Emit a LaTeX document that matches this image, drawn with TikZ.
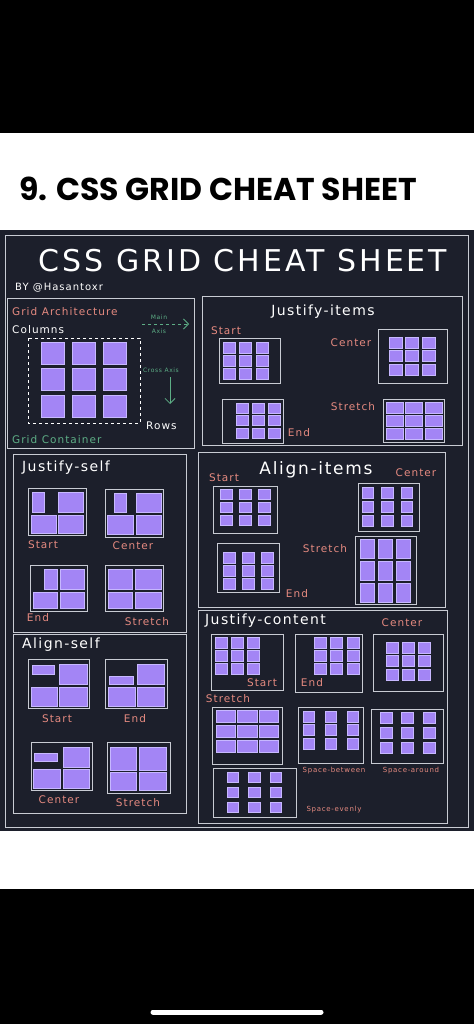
\documentclass[tikz,border=0pt]{standalone}
\usepackage{fontspec}
\setmainfont{DejaVu Sans}
\newfontfamily\hand[LetterSpace=10]{DejaVu Sans}
\newfontfamily\topfont{Poppins}
\usetikzlibrary{arrows.meta}

\definecolor{panel}{HTML}{1C1F2B}
\definecolor{framegray}{HTML}{C8CBD3}
\definecolor{purplefill}{HTML}{A385F5}
\definecolor{purpleedge}{HTML}{C7B8FF}
\definecolor{salmon}{HTML}{E58A80}
\definecolor{axisgreen}{HTML}{5DAE86}

\tikzset{
  frame/.style={draw=framegray, line width=1pt},
  item/.style={fill=purplefill, draw=purpleedge, line width=0.5pt},
  head/.style={text=white, inner sep=0pt, font=\hand\fontsize{14}{16}\selectfont},
  lbl/.style={text=salmon, inner sep=0pt, font=\hand\fontsize{10.5}{12}\selectfont},
  small/.style={text=salmon, inner sep=0pt, font=\hand\fontsize{7}{8}\selectfont},
  tiny/.style={text=axisgreen, inner sep=0pt, font=\hand\fontsize{6}{7}\selectfont},
  axis/.style={draw=axisgreen, line width=0.8pt, -{Straight Barb[length=5pt,width=10pt]}},
}

% 3x3 grid of items: x0, y0, column step, row step, width, height
\newcommand\ninegrid[6]{%
  \foreach \i in {0,1,2}{\foreach \j in {0,1,2}{%
    \draw[item] ({#1+\i*#3},{#2+\j*#4}) rectangle ++(#5,#6);}}}
% one item from corner to corner
\newcommand\cell[4]{\draw[item] (#1,#2) rectangle (#3,#4);}

\begin{document}
\begin{tikzpicture}[x=1pt,y=-1pt]
	\useasboundingbox (0,0) rectangle (474,1024);
	
	% phone screen
	\fill[black] (0,0) rectangle (474,1024);
	\fill[white] (0,133) rectangle (474,230);
	\fill[panel] (0,230) rectangle (474,831);
	\fill[white] (0,831) rectangle (474,889);
	\coordinate (barL) at (153,1012);
	\coordinate (barR) at (321,1012);
	\draw[white, line width=5pt, line cap=round] (barL) -- (barR);
	
	\node[inner sep=0pt, font=\topfont\bfseries\fontsize{31.5}{34}\selectfont, anchor=west] (pagetitle) at (19,189) {9. CSS GRID CHEAT SHEET};
	
	% sheet
	\draw[frame] (5,235) rectangle (468,827);
	\node[text=white, inner sep=0pt, font=\hand\fontsize{30}{32}\selectfont] (title) at (243,261) {CSS GRID CHEAT SHEET};
	\node[text=white, inner sep=0pt, font=\hand\fontsize{10}{11}\selectfont, anchor=west] (byline) at (15,288) {BY @Hasantoxr};
	
	% grid architecture
	\draw[frame] (7,298) rectangle (194,448);
	\node[lbl, anchor=west] (arch) at (12,312) {Grid Architecture};
	\node[head, font=\hand\fontsize{10.5}{12}\selectfont, anchor=west] (columns) at (12,330) {Columns};
	\node[tiny] (mainlbl) at (159,317) {Main};
	\node[tiny] (axislbl) at (159,331) {Axis};
	\coordinate (mainA) at (142,324);
	\coordinate (mainB) at (189,324);
	\draw[axis, dashed] (mainA) -- (mainB);
	\node[tiny, anchor=west] (crosslbl) at (143,370) {Cross Axis};
	\coordinate (crossA) at (170,377);
	\coordinate (crossB) at (170,404);
	\draw[axis] (crossA) -- (crossB);
	\draw[draw=white, line width=1pt, dashed] (28,338) rectangle (140,423);
	\ninegrid{41}{342}{31}{26.5}{23}{22}
	\node[head, font=\hand\fontsize{10.5}{12}\selectfont, anchor=west] (rows) at (146,426) {Rows};
	\node[lbl, text=axisgreen, anchor=west] (container) at (12,440) {Grid Container};
	
	% justify-items
	\draw[frame] (202,296) rectangle (462,445);
	\node[head] (jihead) at (323,312) {Justify-items};
	\node[lbl] (jistart) at (226,331) {Start};
	\node[lbl] (jicenter) at (351,343) {Center};
	\node[lbl] (jiend) at (299,433) {End};
	\node[lbl] (jistretch) at (353,407) {Stretch};
	\draw[frame] (219,338) rectangle (280,383);
	\ninegrid{223}{342}{16.5}{13}{12}{11}
	\draw[frame] (378,329) rectangle (447,383);
	\ninegrid{389}{337}{16.5}{13.5}{13}{11}
	\draw[frame] (222,399) rectangle (283,443);
	\ninegrid{236}{403}{16}{12.5}{12}{10}
	\draw[frame] (383,399) rectangle (444,442);
	\ninegrid{386}{402}{19.5}{13}{17}{11}
	
	% justify-self
	\draw[frame] (13,454) rectangle (186,632);
	\node[head, anchor=west] (jshead) at (22,468) {Justify-self};
	\draw[frame] (28,488) rectangle (86,535);
	\cell{32}{492}{44}{512} \cell{58}{492}{83}{512} \cell{31}{515}{56}{533} \cell{58}{515}{83}{533}
	\node[lbl] (jsstart) at (43,545) {Start};
	\draw[frame] (105,489) rectangle (163,537);
	\cell{114}{493}{126}{512} \cell{136}{493}{161}{512} \cell{107}{515}{133}{534} \cell{136}{515}{161}{534}
	\node[lbl] (jscenter) at (133,546) {Center};
	\draw[frame] (30,565) rectangle (87,611);
	\cell{44}{569}{57}{589} \cell{60}{569}{84}{589} \cell{33}{592}{57}{608} \cell{60}{592}{84}{608}
	\node[lbl] (jsend) at (38,618) {End};
	\draw[frame] (105,565) rectangle (163,611);
	\cell{108}{569}{132}{589} \cell{135}{569}{161}{589} \cell{108}{592}{132}{608} \cell{135}{592}{161}{608}
	\node[lbl] (jsstretch) at (147,622) {Stretch};
	
	% align-self
	\draw[frame] (13,634) rectangle (186,813);
	\node[head, anchor=west] (ashead) at (22,645) {Align-self};
	\draw[frame] (28,659) rectangle (89,708);
	\cell{32}{665}{54}{674} \cell{59}{664}{87}{684} \cell{31}{687}{57}{706} \cell{59}{687}{87}{706}
	\node[lbl] (asstart) at (57,719) {Start};
	\draw[frame] (105,659) rectangle (167,708);
	\cell{109}{676}{133}{684} \cell{137}{664}{164}{684} \cell{108}{687}{135}{706} \cell{137}{687}{164}{706}
	\node[lbl] (asend) at (135,719) {End};
	\draw[frame] (31,742) rectangle (92,790);
	\cell{34}{753}{57}{761} \cell{63}{747}{89}{767} \cell{33}{769}{60}{788} \cell{63}{769}{89}{788}
	\node[lbl] (ascenter) at (59,800) {Center};
	\draw[frame] (107,742) rectangle (170,793);
	\cell{110}{747}{136}{770} \cell{139}{747}{166}{770} \cell{110}{772}{136}{790} \cell{139}{772}{166}{790}
	\node[lbl] (asstretch) at (138,803) {Stretch};
	
	% align-items
	\draw[frame] (198,452) rectangle (445,607);
	\node[head, font=\hand\fontsize{17}{19}\selectfont] (aihead) at (316,470) {Align-items};
	\node[lbl] (aistart) at (224,478) {Start};
	\node[lbl] (aicenter) at (416,473) {Center};
	\node[lbl] (aiend) at (297,594) {End};
	\node[lbl] (aistretch) at (325,549) {Stretch};
	\draw[frame] (213,486) rectangle (277,533);
	\ninegrid{220}{489}{19}{13}{12}{10.5}
	\draw[frame] (358,483) rectangle (419,531);
	\ninegrid{362}{487}{19.5}{14}{11.5}{11}
	\draw[frame] (217,543) rectangle (279,592);
	\ninegrid{223}{552}{19}{13}{12}{11}
	\draw[frame] (355,536) rectangle (416,604);
	\ninegrid{360}{539}{18}{22}{14}{19}
	
	% justify-content
	\draw[frame] (198,610) rectangle (447,823);
	\node[head, anchor=west] (jchead) at (205,621) {Justify-content};
	\node[lbl] (jccenter) at (402,623) {Center};
	\draw[frame] (211,634) rectangle (283,690);
	\ninegrid{215}{637}{16}{13}{12}{11}
	\node[lbl] (jcstart) at (262,683) {Start};
	\draw[frame] (295,634) rectangle (362,692);
	\ninegrid{314}{637}{16.5}{13}{12}{11}
	\node[lbl] (jcend) at (312,683) {End};
	\draw[frame] (373,634) rectangle (443,691);
	\ninegrid{386}{642}{16}{13.5}{12.5}{11}
	\node[lbl] (jcstretch) at (228,699) {Stretch};
	\draw[frame] (212,707) rectangle (282,764);
	\ninegrid{216}{710}{21.5}{15}{19.5}{12.5}
	\draw[frame] (298,707) rectangle (363,763);
	\ninegrid{303}{711}{22}{13.5}{11.5}{11}
	\node[small] (jcbetween) at (334,771) {Space-between};
	\draw[frame] (371,709) rectangle (443,763);
	\ninegrid{380}{712}{21.5}{15}{12}{11}
	\node[small] (jcaround) at (411,771) {Space-around};
	\draw[frame] (213,768) rectangle (296,817);
	\ninegrid{227}{772}{21.5}{15}{11.5}{10.5}
	\node[small] (jcevenly) at (334,810) {Space-evenly};
	
\end{tikzpicture}
\end{document}
